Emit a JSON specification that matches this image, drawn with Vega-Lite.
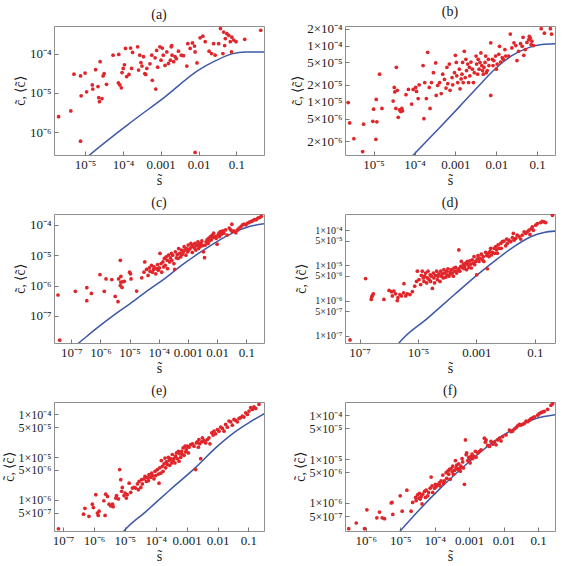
{
"$schema":"https://vega.github.io/schema/vega-lite/v6.json",
"background":"white",
"padding":{"left":1,"top":4,"right":2,"bottom":2},
"columns":2,
"spacing":{"row":59,"column":81},
"bounds":"flush",
"config":{
 "font":"Liberation Serif",
 "view":{"stroke":"#8f8f8f","strokeWidth":1},
 "axis":{"domain":false,"grid":false,"labelOverlap":false,"labelFont":"Liberation Serif","labelFontSize":13,"labelColor":"#1a1a1a","titleFont":"Liberation Serif","titleFontSize":14,"titleFontWeight":"normal","titleColor":"#1a1a1a","tickColor":"#777","tickSize":-4,"labelPadding":7,"titlePadding":2},
 "title":{"font":"Liberation Serif","fontSize":14,"fontWeight":"normal","color":"#1a1a1a","offset":4}
},
"datasets":{
"crv":[
{"p":"a","s":1.1e-5,"c":2.3e-7},{"p":"a","s":1.32e-5,"c":2.67e-7},{"p":"a","s":1.7e-4,"c":1.86e-6},{"p":"a","s":1.3e-3,"c":8.0e-6},{"p":"a","s":1.0e-2,"c":3.8e-5},{"p":"a","s":2.75e-2,"c":6.5e-5},{"p":"a","s":7.6e-2,"c":9.8e-5},{"p":"a","s":0.174,"c":1.1e-4},{"p":"a","s":0.54,"c":1.1e-4},
{"p":"b","s":8.5e-5,"c":1.05e-6},{"p":"b","s":9.6e-5,"c":1.15e-6},{"p":"b","s":3.4e-4,"c":3.0e-6},{"p":"b","s":1.26e-3,"c":8.2e-6},{"p":"b","s":3.8e-3,"c":1.95e-5},{"p":"b","s":9.6e-3,"c":3.9e-5},{"p":"b","s":2.4e-2,"c":6.6e-5},{"p":"b","s":6.2e-2,"c":9.2e-5},{"p":"b","s":0.13,"c":1.05e-4},{"p":"b","s":0.28,"c":1.08e-4},
{"p":"c","s":1.5e-7,"c":1.12e-8},{"p":"c","s":1.8e-7,"c":1.29e-8},{"p":"c","s":7.3e-7,"c":3.9e-8},{"p":"c","s":2.8e-6,"c":1.05e-7},{"p":"c","s":1.07e-5,"c":2.6e-7},{"p":"c","s":4.1e-5,"c":6.8e-7},{"p":"c","s":1.55e-4,"c":1.66e-6},{"p":"c","s":6.0e-4,"c":4.6e-6},{"p":"c","s":2.3e-3,"c":1.14e-5},{"p":"c","s":8.7e-3,"c":2.6e-5},{"p":"c","s":3.3e-2,"c":5.3e-5},{"p":"c","s":0.128,"c":8.8e-5},{"p":"c","s":0.41,"c":1.08e-4},
{"p":"d","s":2.0e-6,"c":5.5e-8},{"p":"d","s":2.24e-6,"c":6.2e-8},{"p":"d","s":2.1e-5,"c":3.1e-7},{"p":"d","s":1.7e-4,"c":1.43e-6},{"p":"d","s":1.02e-3,"c":5.2e-6},{"p":"d","s":5.2e-3,"c":1.53e-5},{"p":"d","s":1.94e-2,"c":3.4e-5},{"p":"d","s":7.2e-2,"c":6.5e-5},{"p":"d","s":0.206,"c":8.6e-5},{"p":"d","s":0.5,"c":9.4e-5},
{"p":"e","s":8.5e-6,"c":1.7e-7},{"p":"e","s":9.4e-6,"c":1.86e-7},{"p":"e","s":4.8e-5,"c":5.3e-7},{"p":"e","s":2.7e-4,"c":1.63e-6},{"p":"e","s":1.97e-3,"c":5.75e-6},{"p":"e","s":8.7e-3,"c":1.64e-5},{"p":"e","s":3.03e-2,"c":3.5e-5},{"p":"e","s":0.105,"c":6.4e-5},{"p":"e","s":0.33,"c":1.04e-4},
{"p":"f","s":9.0e-6,"c":2.1e-7},{"p":"f","s":1.0e-5,"c":2.3e-7},{"p":"f","s":3.6e-5,"c":7.0e-7},{"p":"f","s":1.38e-4,"c":2.07e-6},{"p":"f","s":5.2e-4,"c":5.5e-6},{"p":"f","s":1.99e-3,"c":1.38e-5},{"p":"f","s":6.04e-3,"c":2.74e-5},{"p":"f","s":2.3e-2,"c":5.2e-5},{"p":"f","s":8.7e-2,"c":8.4e-5},{"p":"f","s":0.32,"c":1.03e-4}
],
"pts":[
{"p":"a","s":2.0e-6,"c":2.5e-6},{"p":"a","s":4.2e-6,"c":3.5e-6},{"p":"a","s":5.1e-6,"c":3.0e-5},{"p":"a","s":7.6e-6,"c":2.7e-5},{"p":"a","s":7.9e-6,"c":8.5e-6},{"p":"a","s":1.0e-5,"c":3.2e-5},{"p":"a","s":1.1e-5,"c":1.07e-5},{"p":"a","s":7.6e-6,"c":6.0e-7},{"p":"a","s":1.55e-5,"c":1.6e-5},{"p":"a","s":1.6e-5,"c":1.26e-5},
{"p":"a","s":1.9e-5,"c":3.9e-5},{"p":"a","s":2.2e-5,"c":1.45e-5},{"p":"a","s":2.3e-5,"c":7.6e-6},{"p":"a","s":2.4e-5,"c":6.0e-6},{"p":"a","s":2.5e-5,"c":6.2e-5},{"p":"a","s":2.8e-5,"c":7.2e-6},{"p":"a","s":3.0e-5,"c":2.7e-5},{"p":"a","s":3.2e-5,"c":3.1e-5},{"p":"a","s":3.7e-5,"c":1.66e-5},{"p":"a","s":5.5e-5,"c":9.1e-5},
{"p":"a","s":7.8e-5,"c":9.5e-5},{"p":"a","s":7.6e-5,"c":1.8e-5},{"p":"a","s":8.3e-5,"c":1.6e-5},{"p":"a","s":9.1e-5,"c":1.35e-5},{"p":"a","s":9.5e-5,"c":3.3e-5},{"p":"a","s":1.02e-4,"c":4.2e-5},{"p":"a","s":1.1e-4,"c":5.2e-5},{"p":"a","s":1.17e-4,"c":1.35e-4},{"p":"a","s":1.26e-4,"c":2.6e-5},{"p":"a","s":1.45e-4,"c":2.95e-5},
{"p":"a","s":1.6e-4,"c":1.38e-4},{"p":"a","s":1.7e-4,"c":4.2e-5},{"p":"a","s":1.8e-4,"c":1.07e-4},{"p":"a","s":2.45e-4,"c":1.48e-4},{"p":"a","s":2.6e-4,"c":3.8e-5},{"p":"a","s":2.8e-4,"c":9.1e-5},{"p":"a","s":3.0e-4,"c":5.9e-5},{"p":"a","s":3.2e-4,"c":4.8e-5},{"p":"a","s":3.5e-4,"c":8.3e-5},{"p":"a","s":3.8e-4,"c":3.1e-5},
{"p":"a","s":4.0e-4,"c":2.95e-5},{"p":"a","s":4.3e-4,"c":4.2e-5},{"p":"a","s":5.2e-4,"c":5.5e-5},{"p":"a","s":5.8e-4,"c":9.1e-5},{"p":"a","s":6.0e-4,"c":2.1e-5},{"p":"a","s":7.1e-4,"c":7.8e-5},{"p":"a","s":7.4e-4,"c":1.26e-5},{"p":"a","s":7.8e-4,"c":1.2e-4},{"p":"a","s":8.3e-4,"c":4.5e-5},{"p":"a","s":9.5e-4,"c":1.48e-4},
{"p":"a","s":1.02e-3,"c":6.8e-5},{"p":"a","s":1.1e-3,"c":1.38e-4},{"p":"a","s":1.17e-3,"c":9.1e-5},{"p":"a","s":1.3e-3,"c":5.0e-5},{"p":"a","s":1.45e-3,"c":1.1e-4},{"p":"a","s":1.6e-3,"c":5.6e-5},{"p":"a","s":1.8e-3,"c":6.8e-5},{"p":"a","s":1.9e-3,"c":1.48e-4},{"p":"a","s":1.95e-3,"c":1.6e-4},{"p":"a","s":2.0e-3,"c":9.1e-5},
{"p":"a","s":2.2e-3,"c":6.2e-5},{"p":"a","s":2.4e-3,"c":8.3e-5},{"p":"a","s":2.6e-3,"c":7.4e-5},{"p":"a","s":2.95e-3,"c":1.15e-4},{"p":"a","s":3.5e-3,"c":9.1e-5},{"p":"a","s":4.0e-3,"c":8.8e-5},{"p":"a","s":4.9e-3,"c":4.8e-5},{"p":"a","s":5.2e-3,"c":1.78e-4},{"p":"a","s":6.0e-3,"c":1.35e-4},{"p":"a","s":6.9e-3,"c":1.86e-4},
{"p":"a","s":7.8e-3,"c":1.55e-4},{"p":"a","s":8.1e-3,"c":1.1e-4},{"p":"a","s":9.1e-3,"c":5.8e-5},{"p":"a","s":8.1e-3,"c":3.1e-7},{"p":"a","s":1.1e-2,"c":2.5e-4},{"p":"a","s":1.3e-2,"c":2.75e-4},{"p":"a","s":1.5e-2,"c":2.0e-4},{"p":"a","s":1.9e-2,"c":1.15e-4},{"p":"a","s":2.2e-2,"c":1.0e-4},{"p":"a","s":2.5e-2,"c":1.78e-4},
{"p":"a","s":2.75e-2,"c":9.1e-5},{"p":"a","s":3.4e-2,"c":1.78e-4},{"p":"a","s":3.8e-2,"c":4.3e-4},{"p":"a","s":4.4e-2,"c":1.0e-4},{"p":"a","s":4.6e-2,"c":3.5e-4},{"p":"a","s":4.9e-2,"c":1.6e-4},{"p":"a","s":5.1e-2,"c":2.4e-4},{"p":"a","s":5.6e-2,"c":3.2e-4},{"p":"a","s":6.3e-2,"c":2.9e-4},{"p":"a","s":6.9e-2,"c":2.0e-4},
{"p":"a","s":7.4e-2,"c":1.1e-4},{"p":"a","s":7.6e-2,"c":2.6e-4},{"p":"a","s":8.5e-2,"c":2.2e-4},{"p":"a","s":9.8e-2,"c":2.0e-4},{"p":"a","s":0.166,"c":2.3e-4},{"p":"a","s":0.44,"c":3.9e-4},
{"p":"b","s":2.4e-6,"c":9.7e-6},{"p":"b","s":2.6e-6,"c":4.2e-6},{"p":"b","s":3.3e-6,"c":2.2e-6},{"p":"b","s":5.4e-6,"c":1.3e-6},{"p":"b","s":5.7e-6,"c":4.0e-6},{"p":"b","s":9.6e-6,"c":4.5e-6},{"p":"b","s":1.0e-5,"c":7.4e-6},{"p":"b","s":1.16e-5,"c":1.1e-5},{"p":"b","s":1.2e-5,"c":4.4e-6},{"p":"b","s":1.14e-5,"c":2.15e-6},
{"p":"b","s":1.4e-5,"c":3.1e-5},{"p":"b","s":1.6e-5,"c":7.6e-6},{"p":"b","s":3.0e-5,"c":1.03e-5},{"p":"b","s":3.2e-5,"c":1.8e-5},{"p":"b","s":3.3e-5,"c":1.5e-5},{"p":"b","s":3.5e-5,"c":7.6e-6},{"p":"b","s":3.6e-5,"c":4.1e-5},{"p":"b","s":3.8e-5,"c":1.6e-5},{"p":"b","s":4.0e-5,"c":5.3e-6},{"p":"b","s":4.3e-5,"c":7.2e-6},
{"p":"b","s":4.6e-5,"c":6.7e-6},{"p":"b","s":4.9e-5,"c":7.6e-6},{"p":"b","s":5.1e-5,"c":6.9e-6},{"p":"b","s":6.2e-5,"c":1.34e-5},{"p":"b","s":7.1e-5,"c":1.66e-5},{"p":"b","s":8.5e-5,"c":9.1e-6},{"p":"b","s":9.3e-5,"c":1.66e-5},{"p":"b","s":1.07e-4,"c":1.8e-5},{"p":"b","s":1.12e-4,"c":1.53e-5},{"p":"b","s":1.23e-4,"c":1.14e-5},
{"p":"b","s":1.3e-4,"c":2.0e-5},{"p":"b","s":1.62e-4,"c":4.4e-5},{"p":"b","s":1.7e-4,"c":5.0e-6},{"p":"b","s":1.78e-4,"c":2.2e-5},{"p":"b","s":1.95e-4,"c":1.14e-5},{"p":"b","s":2.1e-4,"c":7.6e-5},{"p":"b","s":2.3e-4,"c":1.8e-5},{"p":"b","s":2.4e-4,"c":7.6e-6},{"p":"b","s":2.6e-4,"c":2.2e-5},{"p":"b","s":2.9e-4,"c":3.3e-5},
{"p":"b","s":3.3e-4,"c":4.9e-5},{"p":"b","s":3.4e-4,"c":1.3e-5},{"p":"b","s":3.7e-4,"c":1.95e-5},{"p":"b","s":4.1e-4,"c":2.2e-5},{"p":"b","s":4.5e-4,"c":1.4e-5},{"p":"b","s":4.9e-4,"c":3.1e-5},{"p":"b","s":5.4e-4,"c":2.5e-5},{"p":"b","s":5.9e-4,"c":1.75e-5},{"p":"b","s":6.2e-4,"c":4.1e-5},{"p":"b","s":6.5e-4,"c":2.1e-5},
{"p":"b","s":7.1e-4,"c":4.7e-5},{"p":"b","s":7.4e-4,"c":1.6e-5},{"p":"b","s":8.3e-4,"c":2.7e-5},{"p":"b","s":8.6e-4,"c":2.0e-5},{"p":"b","s":9.5e-4,"c":3.3e-5},{"p":"b","s":1.0e-3,"c":6.7e-5},{"p":"b","s":1.05e-3,"c":5.0e-5},{"p":"b","s":1.08e-3,"c":2.9e-5},{"p":"b","s":1.14e-3,"c":2.2e-5},{"p":"b","s":1.25e-3,"c":3.8e-5},
{"p":"b","s":1.3e-3,"c":1.7e-5},{"p":"b","s":1.38e-3,"c":2.55e-5},{"p":"b","s":1.45e-3,"c":3.1e-5},{"p":"b","s":1.5e-3,"c":5.0e-5},{"p":"b","s":1.55e-3,"c":2.2e-5},{"p":"b","s":1.65e-3,"c":7.9e-5},{"p":"b","s":1.74e-3,"c":2.7e-5},{"p":"b","s":1.8e-3,"c":5.7e-5},{"p":"b","s":1.87e-3,"c":3.6e-5},{"p":"b","s":2.0e-3,"c":4.7e-5},
{"p":"b","s":2.1e-3,"c":2.2e-5},{"p":"b","s":2.2e-3,"c":4.1e-5},{"p":"b","s":2.25e-3,"c":2.9e-5},{"p":"b","s":2.4e-3,"c":5.1e-5},{"p":"b","s":2.6e-3,"c":3.8e-5},{"p":"b","s":2.75e-3,"c":2.2e-5},{"p":"b","s":2.9e-3,"c":3.3e-5},{"p":"b","s":3.2e-3,"c":6.5e-5},{"p":"b","s":3.3e-3,"c":4.7e-5},{"p":"b","s":3.5e-3,"c":3.1e-5},
{"p":"b","s":3.6e-3,"c":5.7e-5},{"p":"b","s":3.8e-3,"c":3.8e-5},{"p":"b","s":4.0e-3,"c":5.0e-5},{"p":"b","s":4.2e-3,"c":7.4e-5},{"p":"b","s":4.4e-3,"c":4.4e-5},{"p":"b","s":4.6e-3,"c":3.6e-5},{"p":"b","s":4.8e-3,"c":3.1e-5},{"p":"b","s":5.0e-3,"c":4.1e-5},{"p":"b","s":5.3e-3,"c":5.0e-5},{"p":"b","s":5.5e-3,"c":6.5e-5},
{"p":"b","s":5.7e-3,"c":3.3e-5},{"p":"b","s":6.0e-3,"c":3.6e-5},{"p":"b","s":6.4e-3,"c":5.7e-5},{"p":"b","s":6.6e-3,"c":4.4e-5},{"p":"b","s":7.3e-3,"c":1.12e-4},{"p":"b","s":7.3e-3,"c":1.3e-5},{"p":"b","s":8.0e-3,"c":5.7e-5},{"p":"b","s":8.3e-3,"c":4.4e-5},{"p":"b","s":8.7e-3,"c":5.4e-5},{"p":"b","s":9.6e-3,"c":6.5e-5},
{"p":"b","s":1.0e-2,"c":3.8e-5},{"p":"b","s":1.05e-2,"c":4.7e-5},{"p":"b","s":1.15e-2,"c":7.0e-5},{"p":"b","s":1.2e-2,"c":9.7e-5},{"p":"b","s":1.27e-2,"c":5.1e-5},{"p":"b","s":1.4e-2,"c":6.1e-5},{"p":"b","s":1.48e-2,"c":5.7e-5},{"p":"b","s":1.62e-2,"c":8.5e-5},{"p":"b","s":1.7e-2,"c":6.5e-5},{"p":"b","s":2.0e-2,"c":6.5e-5},
{"p":"b","s":2.2e-2,"c":1.6e-4},{"p":"b","s":2.4e-2,"c":9.1e-5},{"p":"b","s":2.7e-2,"c":1.12e-4},{"p":"b","s":3.0e-2,"c":1.0e-4},{"p":"b","s":3.2e-2,"c":5.4e-5},{"p":"b","s":3.5e-2,"c":7.9e-5},{"p":"b","s":3.9e-2,"c":1.08e-4},{"p":"b","s":4.3e-2,"c":9.7e-5},{"p":"b","s":4.5e-2,"c":1.4e-4},{"p":"b","s":4.7e-2,"c":6.7e-5},
{"p":"b","s":5.1e-2,"c":8.5e-5},{"p":"b","s":5.6e-2,"c":1.14e-4},{"p":"b","s":6.2e-2,"c":1.27e-4},{"p":"b","s":6.4e-2,"c":1.46e-4},{"p":"b","s":6.8e-2,"c":1.36e-4},{"p":"b","s":7.1e-2,"c":1.04e-4},{"p":"b","s":7.4e-2,"c":1.2e-4},{"p":"b","s":8.1e-2,"c":1.0e-4},{"p":"b","s":0.125,"c":2.0e-4},{"p":"b","s":0.15,"c":1.66e-4},
{"p":"b","s":0.21,"c":2.0e-4},{"p":"b","s":0.224,"c":1.6e-4},
{"p":"c","s":3.5e-8,"c":4.9e-7},{"p":"c","s":4.0e-8,"c":1.6e-8},{"p":"c","s":1.38e-7,"c":6.5e-7},{"p":"c","s":3.4e-7,"c":8.5e-7},{"p":"c","s":3.4e-7,"c":3.2e-7},{"p":"c","s":4.9e-7,"c":5.5e-7},{"p":"c","s":9.6e-7,"c":2.3e-6},{"p":"c","s":1.35e-6,"c":6.5e-7},{"p":"c","s":1.55e-6,"c":1.66e-6},{"p":"c","s":2.45e-6,"c":1.58e-6},
{"p":"c","s":3.2e-6,"c":4.4e-7},{"p":"c","s":4.0e-6,"c":2.95e-7},{"p":"c","s":4.2e-6,"c":1.66e-6},{"p":"c","s":4.8e-6,"c":6.8e-6},{"p":"c","s":5.0e-6,"c":2.0e-6},{"p":"c","s":5.0e-6,"c":1.29e-6},{"p":"c","s":4.8e-6,"c":1.0e-6},{"p":"c","s":5.5e-6,"c":8.7e-7},{"p":"c","s":5.9e-6,"c":1.35e-6},{"p":"c","s":6.6e-6,"c":1.38e-6},
{"p":"c","s":1.0e-5,"c":2.75e-6},{"p":"c","s":1.07e-5,"c":2.45e-6},{"p":"c","s":1.12e-5,"c":1.66e-6},{"p":"c","s":1.74e-5,"c":6.6e-7},{"p":"c","s":2.6e-5,"c":1.8e-6},{"p":"c","s":3.1e-5,"c":2.75e-6},{"p":"c","s":3.3e-5,"c":6.0e-6},{"p":"c","s":3.8e-5,"c":3.4e-6},{"p":"c","s":4.3e-5,"c":2.15e-6},{"p":"c","s":4.7e-5,"c":3.8e-6},
{"p":"c","s":5.0e-5,"c":2.95e-6},{"p":"c","s":5.6e-5,"c":4.6e-6},{"p":"c","s":6.1e-5,"c":2.75e-6},{"p":"c","s":6.6e-5,"c":3.4e-6},{"p":"c","s":6.9e-5,"c":4.1e-6},{"p":"c","s":7.9e-5,"c":2.45e-6},{"p":"c","s":8.6e-5,"c":3.6e-6},{"p":"c","s":9.1e-5,"c":4.9e-6},{"p":"c","s":9.6e-5,"c":3.2e-6},{"p":"c","s":1.05e-4,"c":3.8e-6},
{"p":"c","s":1.1e-4,"c":1.14e-5},{"p":"c","s":1.2e-4,"c":5.3e-6},{"p":"c","s":1.26e-4,"c":2.75e-6},{"p":"c","s":1.38e-4,"c":6.0e-6},{"p":"c","s":1.48e-4,"c":4.1e-6},{"p":"c","s":1.55e-4,"c":7.8e-6},{"p":"c","s":1.66e-4,"c":4.6e-6},{"p":"c","s":1.78e-4,"c":8.8e-6},{"p":"c","s":1.95e-4,"c":6.8e-6},{"p":"c","s":2.0e-4,"c":3.6e-6},
{"p":"c","s":2.15e-4,"c":1.0e-5},{"p":"c","s":2.35e-4,"c":6.0e-6},{"p":"c","s":2.5e-4,"c":8.1e-6},{"p":"c","s":2.7e-4,"c":1.14e-5},{"p":"c","s":2.8e-4,"c":6.8e-6},{"p":"c","s":3.0e-4,"c":1.0e-5},{"p":"c","s":3.3e-4,"c":5.3e-6},{"p":"c","s":3.5e-4,"c":3.4e-6},{"p":"c","s":3.7e-4,"c":1.29e-5},{"p":"c","s":4.0e-4,"c":8.1e-6},
{"p":"c","s":4.3e-4,"c":1.05e-5},{"p":"c","s":4.6e-4,"c":7.8e-6},{"p":"c","s":4.8e-4,"c":1.66e-5},{"p":"c","s":5.2e-4,"c":1.14e-5},{"p":"c","s":5.6e-4,"c":8.8e-6},{"p":"c","s":6.0e-4,"c":1.48e-5},{"p":"c","s":6.3e-4,"c":1.05e-5},{"p":"c","s":6.8e-4,"c":1.23e-5},{"p":"c","s":7.4e-4,"c":1.9e-5},{"p":"c","s":7.8e-4,"c":1.48e-5},
{"p":"c","s":8.5e-4,"c":1.0e-5},{"p":"c","s":8.9e-4,"c":1.66e-5},{"p":"c","s":9.7e-4,"c":1.29e-5},{"p":"c","s":1.02e-3,"c":2.15e-5},{"p":"c","s":1.07e-3,"c":1.48e-5},{"p":"c","s":1.17e-3,"c":1.66e-5},{"p":"c","s":1.26e-3,"c":2.45e-5},{"p":"c","s":1.35e-3,"c":1.9e-5},{"p":"c","s":1.41e-3,"c":1.23e-5},{"p":"c","s":1.5e-3,"c":2.15e-5},
{"p":"c","s":1.66e-3,"c":1.74e-5},{"p":"c","s":1.74e-3,"c":2.45e-5},{"p":"c","s":1.86e-3,"c":1.48e-5},{"p":"c","s":2.0e-3,"c":2.05e-5},{"p":"c","s":2.2e-3,"c":2.75e-5},{"p":"c","s":2.3e-3,"c":1.66e-5},{"p":"c","s":2.4e-3,"c":2.3e-5},{"p":"c","s":2.6e-3,"c":1.9e-5},{"p":"c","s":2.8e-3,"c":2.45e-5},{"p":"c","s":3.0e-3,"c":2.95e-5},
{"p":"c","s":3.2e-3,"c":2.05e-5},{"p":"c","s":3.4e-3,"c":1.29e-5},{"p":"c","s":3.7e-3,"c":8.3e-6},{"p":"c","s":3.9e-3,"c":2.15e-5},{"p":"c","s":4.2e-3,"c":2.75e-5},{"p":"c","s":4.5e-3,"c":3.2e-5},{"p":"c","s":4.9e-3,"c":2.45e-5},{"p":"c","s":5.1e-3,"c":3.6e-5},{"p":"c","s":5.4e-3,"c":2.95e-5},{"p":"c","s":5.9e-3,"c":4.1e-5},
{"p":"c","s":6.3e-3,"c":3.2e-5},{"p":"c","s":6.8e-3,"c":4.6e-5},{"p":"c","s":7.2e-3,"c":3.8e-5},{"p":"c","s":7.6e-3,"c":5.3e-5},{"p":"c","s":8.7e-3,"c":4.1e-5},{"p":"c","s":9.3e-3,"c":3.6e-5},{"p":"c","s":1.0e-2,"c":2.3e-5},{"p":"c","s":1.07e-2,"c":4.6e-5},{"p":"c","s":1.15e-2,"c":5.3e-5},{"p":"c","s":1.2e-2,"c":4.1e-5},
{"p":"c","s":1.3e-2,"c":6.0e-5},{"p":"c","s":1.4e-2,"c":4.9e-5},{"p":"c","s":1.48e-2,"c":5.7e-5},{"p":"c","s":1.58e-2,"c":6.3e-5},{"p":"c","s":1.7e-2,"c":5.3e-5},{"p":"c","s":1.95e-2,"c":6.8e-5},{"p":"c","s":2.2e-2,"c":4.6e-5},{"p":"c","s":2.6e-2,"c":7.8e-5},{"p":"c","s":2.95e-2,"c":6.8e-5},{"p":"c","s":3.2e-2,"c":1.05e-4},
{"p":"c","s":3.3e-2,"c":6.0e-5},{"p":"c","s":3.8e-2,"c":6.3e-5},{"p":"c","s":4.4e-2,"c":5.5e-5},{"p":"c","s":5.0e-2,"c":6.8e-5},{"p":"c","s":5.7e-2,"c":7.8e-5},{"p":"c","s":6.6e-2,"c":8.8e-5},{"p":"c","s":7.4e-2,"c":1.0e-4},{"p":"c","s":8.5e-2,"c":1.05e-4},{"p":"c","s":9.8e-2,"c":1.0e-4},{"p":"c","s":0.112,"c":1.14e-4},
{"p":"c","s":0.129,"c":1.23e-4},{"p":"c","s":0.148,"c":1.29e-4},{"p":"c","s":0.166,"c":1.36e-4},{"p":"c","s":0.19,"c":1.47e-4},{"p":"c","s":0.22,"c":1.47e-4},{"p":"c","s":0.25,"c":1.67e-4},{"p":"c","s":0.29,"c":1.76e-4},{"p":"c","s":0.33,"c":1.9e-4},
{"p":"d","s":4.7e-8,"c":7.6e-8},{"p":"d","s":1.6e-7,"c":4.2e-6},{"p":"d","s":2.5e-7,"c":1.07e-6},{"p":"d","s":2.6e-7,"c":1.26e-6},{"p":"d","s":2.75e-7,"c":1.4e-6},{"p":"d","s":2.95e-7,"c":1.55e-6},{"p":"d","s":6.8e-7,"c":1.07e-6},{"p":"d","s":1.02e-6,"c":1.93e-6},{"p":"d","s":1.23e-6,"c":1.78e-6},{"p":"d","s":1.32e-6,"c":1.35e-6},
{"p":"d","s":1.5e-6,"c":1.86e-6},{"p":"d","s":1.7e-6,"c":1.55e-6},{"p":"d","s":1.95e-6,"c":1.0e-6},{"p":"d","s":2.05e-6,"c":1.2e-6},{"p":"d","s":2.4e-6,"c":1.48e-6},{"p":"d","s":2.7e-6,"c":1.35e-6},{"p":"d","s":3.2e-6,"c":1.66e-6},{"p":"d","s":3.3e-6,"c":3.0e-6},{"p":"d","s":3.8e-6,"c":1.35e-6},{"p":"d","s":4.3e-6,"c":1.55e-6},
{"p":"d","s":5.3e-6,"c":1.48e-6},{"p":"d","s":6.4e-6,"c":1.78e-6},{"p":"d","s":7.7e-6,"c":2.55e-6},{"p":"d","s":8.9e-6,"c":3.5e-6},{"p":"d","s":9.5e-6,"c":6.8e-6},{"p":"d","s":1.08e-5,"c":3.9e-6},{"p":"d","s":1.23e-5,"c":2.85e-6},{"p":"d","s":1.3e-5,"c":5.2e-6},{"p":"d","s":1.4e-5,"c":6.8e-6},{"p":"d","s":1.52e-5,"c":4.4e-6},
{"p":"d","s":1.6e-5,"c":3.5e-6},{"p":"d","s":1.69e-5,"c":4.9e-6},{"p":"d","s":1.82e-5,"c":6.05e-6},{"p":"d","s":1.98e-5,"c":3.16e-6},{"p":"d","s":2.1e-5,"c":4.4e-6},{"p":"d","s":2.2e-5,"c":6.8e-6},{"p":"d","s":2.4e-5,"c":3.9e-6},{"p":"d","s":2.6e-5,"c":5.4e-6},{"p":"d","s":2.7e-5,"c":3.5e-6},{"p":"d","s":2.85e-5,"c":4.9e-6},
{"p":"d","s":3.1e-5,"c":2.2e-6},{"p":"d","s":3.35e-5,"c":6.05e-6},{"p":"d","s":3.5e-5,"c":4.4e-6},{"p":"d","s":3.7e-5,"c":3.16e-6},{"p":"d","s":4.0e-5,"c":5.2e-6},{"p":"d","s":4.35e-5,"c":6.8e-6},{"p":"d","s":4.6e-5,"c":3.9e-6},{"p":"d","s":4.8e-5,"c":4.9e-6},{"p":"d","s":5.2e-5,"c":5.7e-6},{"p":"d","s":5.65e-5,"c":3.5e-6},
{"p":"d","s":6.0e-5,"c":6.8e-6},{"p":"d","s":6.3e-5,"c":4.9e-6},{"p":"d","s":6.8e-5,"c":5.7e-6},{"p":"d","s":7.3e-5,"c":4.4e-6},{"p":"d","s":7.7e-5,"c":7.5e-6},{"p":"d","s":8.2e-5,"c":6.05e-6},{"p":"d","s":8.8e-5,"c":4.6e-6},{"p":"d","s":9.6e-5,"c":6.8e-6},{"p":"d","s":1.0e-4,"c":5.4e-6},{"p":"d","s":1.06e-4,"c":8.0e-6},
{"p":"d","s":1.15e-4,"c":4.9e-6},{"p":"d","s":1.24e-4,"c":6.45e-6},{"p":"d","s":1.31e-4,"c":5.7e-6},{"p":"d","s":1.38e-4,"c":7.5e-6},{"p":"d","s":1.5e-4,"c":6.05e-6},{"p":"d","s":1.62e-4,"c":4.9e-6},{"p":"d","s":1.7e-4,"c":8.4e-6},{"p":"d","s":1.8e-4,"c":6.8e-6},{"p":"d","s":1.95e-4,"c":8.7e-6},{"p":"d","s":2.1e-4,"c":6.05e-6},
{"p":"d","s":2.2e-4,"c":7.0e-6},{"p":"d","s":2.5e-4,"c":2.74e-5},{"p":"d","s":2.5e-4,"c":8.0e-6},{"p":"d","s":2.7e-4,"c":6.8e-6},{"p":"d","s":2.9e-4,"c":9.3e-6},{"p":"d","s":3.04e-4,"c":1.29e-5},{"p":"d","s":3.3e-4,"c":8.7e-6},{"p":"d","s":3.6e-4,"c":1.08e-5},{"p":"d","s":3.75e-4,"c":8.0e-6},{"p":"d","s":3.95e-4,"c":9.3e-6},
{"p":"d","s":4.3e-4,"c":1.16e-5},{"p":"d","s":4.6e-4,"c":7.5e-6},{"p":"d","s":4.9e-4,"c":1.29e-5},{"p":"d","s":5.1e-4,"c":1.04e-5},{"p":"d","s":5.6e-4,"c":8.7e-6},{"p":"d","s":6.0e-4,"c":1.34e-5},{"p":"d","s":6.35e-4,"c":1.08e-5},{"p":"d","s":6.7e-4,"c":8.4e-6},{"p":"d","s":7.2e-4,"c":1.44e-5},{"p":"d","s":7.8e-4,"c":1.16e-5},
{"p":"d","s":8.3e-4,"c":1.78e-5},{"p":"d","s":8.7e-4,"c":1.04e-5},{"p":"d","s":9.4e-4,"c":1.29e-5},{"p":"d","s":1.02e-3,"c":5.4e-6},{"p":"d","s":1.07e-3,"c":1.53e-5},{"p":"d","s":1.13e-3,"c":1.9e-5},{"p":"d","s":1.22e-3,"c":1.29e-5},{"p":"d","s":1.32e-3,"c":1.6e-5},{"p":"d","s":1.47e-3,"c":2.07e-5},{"p":"d","s":1.6e-3,"c":1.44e-5},
{"p":"d","s":1.72e-3,"c":1.78e-5},{"p":"d","s":1.8e-3,"c":1.29e-5},{"p":"d","s":2.07e-3,"c":2.35e-5},{"p":"d","s":2.24e-3,"c":1.9e-5},{"p":"d","s":2.36e-3,"c":8.0e-6},{"p":"d","s":2.5e-3,"c":2.2e-5},{"p":"d","s":2.7e-3,"c":1.78e-5},{"p":"d","s":2.9e-3,"c":2.46e-5},{"p":"d","s":3.07e-3,"c":3.05e-5},{"p":"d","s":3.24e-3,"c":1.98e-5},
{"p":"d","s":3.5e-3,"c":2.35e-5},{"p":"d","s":4.0e-3,"c":3.05e-5},{"p":"d","s":4.2e-3,"c":2.2e-5},{"p":"d","s":4.56e-3,"c":3.4e-5},{"p":"d","s":4.9e-3,"c":2.74e-5},{"p":"d","s":5.2e-3,"c":2.2e-5},{"p":"d","s":5.5e-3,"c":3.8e-5},{"p":"d","s":5.9e-3,"c":3.05e-5},{"p":"d","s":6.8e-3,"c":4.2e-5},{"p":"d","s":7.1e-3,"c":3.05e-5},
{"p":"d","s":7.7e-3,"c":4.7e-5},{"p":"d","s":8.8e-3,"c":4.9e-5},{"p":"d","s":1.0e-2,"c":3.6e-5},{"p":"d","s":1.08e-2,"c":5.6e-5},{"p":"d","s":1.14e-2,"c":4.2e-5},{"p":"d","s":1.3e-2,"c":5.2e-5},{"p":"d","s":1.49e-2,"c":4.7e-5},{"p":"d","s":1.7e-2,"c":6.1e-5},{"p":"d","s":1.84e-2,"c":8.1e-5},{"p":"d","s":1.94e-2,"c":5.2e-5},
{"p":"d","s":2.2e-2,"c":5.8e-5},{"p":"d","s":2.5e-2,"c":7.2e-5},{"p":"d","s":2.9e-2,"c":6.5e-5},{"p":"d","s":3.3e-2,"c":5.6e-5},{"p":"d","s":3.7e-2,"c":7.2e-5},{"p":"d","s":4.3e-2,"c":9.0e-5},{"p":"d","s":4.85e-2,"c":8.1e-5},{"p":"d","s":5.5e-2,"c":9.0e-5},{"p":"d","s":6.3e-2,"c":1.0e-4},{"p":"d","s":6.8e-2,"c":7.55e-5},
{"p":"d","s":7.6e-2,"c":1.11e-4},{"p":"d","s":8.2e-2,"c":1.24e-4},{"p":"d","s":8.9e-2,"c":1.0e-4},{"p":"d","s":0.107,"c":1.38e-4},{"p":"d","s":0.122,"c":1.54e-4},{"p":"d","s":0.158,"c":1.64e-4},{"p":"d","s":0.181,"c":1.79e-4},{"p":"d","s":0.206,"c":1.71e-4},{"p":"d","s":0.235,"c":1.64e-4},{"p":"d","s":0.4,"c":2.64e-4},
{"p":"e","s":7.1e-8,"c":2.1e-7},{"p":"e","s":4.6e-7,"c":4.6e-7},{"p":"e","s":5.1e-7,"c":6.3e-7},{"p":"e","s":6.9e-7,"c":4.1e-7},{"p":"e","s":8.9e-7,"c":7.9e-7},{"p":"e","s":9.6e-7,"c":6.6e-7},{"p":"e","s":1.15e-6,"c":1.32e-6},{"p":"e","s":1.3e-6,"c":4.9e-7},{"p":"e","s":1.38e-6,"c":4.3e-7},{"p":"e","s":1.47e-6,"c":5.4e-7},
{"p":"e","s":2.1e-6,"c":9.5e-7},{"p":"e","s":2.3e-6,"c":4.3e-7},{"p":"e","s":2.4e-6,"c":1.35e-6},{"p":"e","s":2.75e-6,"c":1.2e-6},{"p":"e","s":3.1e-6,"c":7.9e-7},{"p":"e","s":3.5e-6,"c":7.2e-7},{"p":"e","s":4.0e-6,"c":7.9e-7},{"p":"e","s":4.2e-6,"c":6.9e-7},{"p":"e","s":5.1e-6,"c":1.1e-6},{"p":"e","s":5.4e-6,"c":1.26e-6},
{"p":"e","s":6.2e-6,"c":1.05e-6},{"p":"e","s":6.8e-6,"c":5.1e-6},{"p":"e","s":7.4e-6,"c":2.95e-6},{"p":"e","s":7.9e-6,"c":1.58e-6},{"p":"e","s":8.3e-6,"c":1.95e-6},{"p":"e","s":9.4e-6,"c":1.26e-6},{"p":"e","s":1.02e-5,"c":1.44e-6},{"p":"e","s":1.12e-5,"c":1.1e-6},{"p":"e","s":1.2e-5,"c":1.32e-6},{"p":"e","s":1.38e-5,"c":2.45e-6},
{"p":"e","s":1.55e-5,"c":1.5e-6},{"p":"e","s":1.76e-5,"c":1.88e-6},{"p":"e","s":2.0e-5,"c":1.95e-6},{"p":"e","s":2.25e-5,"c":1.88e-6},{"p":"e","s":2.55e-5,"c":2.35e-6},{"p":"e","s":2.75e-5,"c":1.72e-6},{"p":"e","s":2.9e-5,"c":2.7e-6},{"p":"e","s":3.3e-5,"c":1.95e-6},{"p":"e","s":3.5e-5,"c":2.95e-6},{"p":"e","s":3.7e-5,"c":2.35e-6},
{"p":"e","s":4.2e-5,"c":3.1e-6},{"p":"e","s":4.5e-5,"c":3.55e-6},{"p":"e","s":5.0e-5,"c":2.7e-6},{"p":"e","s":5.4e-5,"c":3.35e-6},{"p":"e","s":5.8e-5,"c":2.8e-6},{"p":"e","s":6.1e-5,"c":3.9e-6},{"p":"e","s":6.9e-5,"c":3.35e-6},{"p":"e","s":7.4e-5,"c":4.2e-6},{"p":"e","s":7.8e-5,"c":3.7e-6},{"p":"e","s":8.8e-5,"c":3.1e-6},
{"p":"e","s":9.5e-5,"c":4.65e-6},{"p":"e","s":1.0e-4,"c":3.7e-6},{"p":"e","s":1.13e-4,"c":5.1e-6},{"p":"e","s":1.22e-4,"c":4.0e-6},{"p":"e","s":1.28e-4,"c":2.45e-6},{"p":"e","s":1.35e-4,"c":5.6e-6},{"p":"e","s":1.45e-4,"c":4.2e-6},{"p":"e","s":1.52e-4,"c":8.3e-6},{"p":"e","s":1.64e-4,"c":6.1e-6},{"p":"e","s":1.73e-4,"c":4.65e-6},
{"p":"e","s":1.86e-4,"c":6.9e-6},{"p":"e","s":2.0e-4,"c":9.5e-6},{"p":"e","s":2.1e-4,"c":5.6e-6},{"p":"e","s":2.2e-4,"c":7.7e-6},{"p":"e","s":2.4e-4,"c":6.7e-6},{"p":"e","s":2.57e-4,"c":9.9e-6},{"p":"e","s":2.7e-4,"c":8.3e-6},{"p":"e","s":2.84e-4,"c":6.4e-6},{"p":"e","s":3.06e-4,"c":9.2e-6},{"p":"e","s":3.3e-4,"c":7.3e-6},
{"p":"e","s":3.45e-4,"c":1.15e-5},{"p":"e","s":3.6e-4,"c":8.3e-6},{"p":"e","s":3.9e-4,"c":9.2e-6},{"p":"e","s":4.2e-4,"c":7.3e-6},{"p":"e","s":4.4e-4,"c":1.05e-5},{"p":"e","s":4.7e-4,"c":1.25e-5},{"p":"e","s":5.0e-4,"c":9.2e-6},{"p":"e","s":5.4e-4,"c":1.37e-5},{"p":"e","s":5.7e-4,"c":8.0e-6},{"p":"e","s":6.0e-4,"c":1.19e-5},
{"p":"e","s":6.45e-4,"c":9.9e-6},{"p":"e","s":6.9e-4,"c":1.37e-5},{"p":"e","s":7.3e-4,"c":1.15e-5},{"p":"e","s":7.7e-4,"c":1.64e-5},{"p":"e","s":8.3e-4,"c":1.1e-5},{"p":"e","s":8.9e-4,"c":1.8e-5},{"p":"e","s":9.35e-4,"c":1.32e-5},{"p":"e","s":9.8e-4,"c":1.5e-5},{"p":"e","s":1.06e-3,"c":1.8e-5},{"p":"e","s":1.14e-3,"c":1.25e-5},
{"p":"e","s":1.2e-3,"c":1.7e-5},{"p":"e","s":1.36e-3,"c":1.97e-5},{"p":"e","s":1.54e-3,"c":2.04e-5},{"p":"e","s":1.74e-3,"c":1.8e-5},{"p":"e","s":1.97e-3,"c":5.1e-6},{"p":"e","s":2.07e-3,"c":2.15e-5},{"p":"e","s":2.23e-3,"c":2.27e-5},{"p":"e","s":2.4e-3,"c":1.7e-5},{"p":"e","s":2.5e-3,"c":2.58e-5},{"p":"e","s":2.65e-3,"c":2.04e-5},
{"p":"e","s":2.86e-3,"c":9.2e-6},{"p":"e","s":3.08e-3,"c":2.27e-5},{"p":"e","s":3.24e-3,"c":2.83e-5},{"p":"e","s":3.66e-3,"c":2.45e-5},{"p":"e","s":3.95e-3,"c":2.27e-5},{"p":"e","s":4.15e-3,"c":2.15e-5},{"p":"e","s":4.7e-3,"c":2.58e-5},{"p":"e","s":5.3e-3,"c":2.83e-5},{"p":"e","s":5.7e-3,"c":2.04e-5},{"p":"e","s":6.5e-3,"c":3.7e-5},
{"p":"e","s":7.2e-3,"c":3.27e-5},{"p":"e","s":7.7e-3,"c":4.05e-5},{"p":"e","s":8.7e-3,"c":3.5e-5},{"p":"e","s":9.9e-3,"c":4.4e-5},{"p":"e","s":1.12e-2,"c":4.05e-5},{"p":"e","s":1.27e-2,"c":5.0e-5},{"p":"e","s":1.44e-2,"c":4.7e-5},{"p":"e","s":1.63e-2,"c":4.05e-5},{"p":"e","s":1.84e-2,"c":5.8e-5},{"p":"e","s":2.08e-2,"c":5.0e-5},
{"p":"e","s":2.36e-2,"c":7.0e-5},{"p":"e","s":2.67e-2,"c":6.7e-5},{"p":"e","s":3.03e-2,"c":5.6e-5},{"p":"e","s":3.43e-2,"c":7.6e-5},{"p":"e","s":3.9e-2,"c":7.2e-5},{"p":"e","s":4.4e-2,"c":6.7e-5},{"p":"e","s":5.0e-2,"c":8.05e-5},{"p":"e","s":5.6e-2,"c":8.35e-5},{"p":"e","s":6.4e-2,"c":9.1e-5},{"p":"e","s":7.2e-2,"c":8.65e-5},
{"p":"e","s":8.2e-2,"c":1.09e-4},{"p":"e","s":9.3e-2,"c":1.0e-4},{"p":"e","s":0.105,"c":1.2e-4},{"p":"e","s":0.119,"c":1.44e-4},{"p":"e","s":0.134,"c":1.31e-4},{"p":"e","s":0.152,"c":1.49e-4},{"p":"e","s":0.172,"c":1.38e-4},{"p":"e","s":0.22,"c":1.72e-4},
{"p":"f","s":3.2e-7,"c":2.6e-7},{"p":"f","s":5.3e-7,"c":3.5e-7},{"p":"f","s":9.2e-7,"c":2.6e-7},{"p":"f","s":1.08e-6,"c":7.0e-7},{"p":"f","s":2.1e-6,"c":4.6e-7},{"p":"f","s":2.5e-6,"c":6.2e-7},{"p":"f","s":3.0e-6,"c":4.6e-7},{"p":"f","s":3.5e-6,"c":4.4e-7},{"p":"f","s":5.5e-6,"c":1.0e-6},{"p":"f","s":6.1e-6,"c":5.5e-7},
{"p":"f","s":5.8e-6,"c":1.03e-6},{"p":"f","s":1.0e-5,"c":1.46e-6},{"p":"f","s":1.14e-5,"c":6.5e-7},{"p":"f","s":1.56e-5,"c":1.96e-6},{"p":"f","s":2.07e-5,"c":6.5e-7},{"p":"f","s":2.3e-5,"c":1.03e-6},{"p":"f","s":2.8e-5,"c":1.34e-6},{"p":"f","s":2.9e-5,"c":1.13e-6},{"p":"f","s":3.2e-5,"c":1.54e-6},{"p":"f","s":3.5e-5,"c":1.29e-6},
{"p":"f","s":3.6e-5,"c":1.65e-6},{"p":"f","s":3.8e-5,"c":1.23e-6},{"p":"f","s":4.05e-5,"c":1.39e-6},{"p":"f","s":4.3e-5,"c":9.5e-7},{"p":"f","s":4.5e-5,"c":1.59e-6},{"p":"f","s":5.1e-5,"c":1.83e-6},{"p":"f","s":5.4e-5,"c":1.34e-6},{"p":"f","s":5.65e-5,"c":1.96e-6},{"p":"f","s":6.3e-5,"c":1.46e-6},{"p":"f","s":6.7e-5,"c":1.74e-6},
{"p":"f","s":7.4e-5,"c":2.17e-6},{"p":"f","s":7.9e-5,"c":3.9e-6},{"p":"f","s":8.4e-5,"c":2.45e-6},{"p":"f","s":8.8e-5,"c":1.74e-6},{"p":"f","s":9.9e-5,"c":2.17e-6},{"p":"f","s":1.05e-4,"c":2.67e-6},{"p":"f","s":1.1e-4,"c":2.33e-6},{"p":"f","s":1.23e-4,"c":2.58e-6},{"p":"f","s":1.38e-4,"c":2.9e-6},{"p":"f","s":1.44e-4,"c":2.45e-6},
{"p":"f","s":1.54e-4,"c":3.18e-6},{"p":"f","s":1.72e-4,"c":4.33e-6},{"p":"f","s":1.8e-4,"c":2.77e-6},{"p":"f","s":1.92e-4,"c":3.18e-6},{"p":"f","s":2.15e-4,"c":4.9e-6},{"p":"f","s":2.24e-4,"c":3.65e-6},{"p":"f","s":2.4e-4,"c":5.3e-6},{"p":"f","s":2.56e-4,"c":4.5e-6},{"p":"f","s":2.68e-4,"c":5.8e-6},{"p":"f","s":2.8e-4,"c":3.46e-6},
{"p":"f","s":3.0e-4,"c":6.1e-6},{"p":"f","s":3.2e-4,"c":5.15e-6},{"p":"f","s":3.35e-4,"c":6.9e-6},{"p":"f","s":3.5e-4,"c":4.5e-6},{"p":"f","s":3.74e-4,"c":5.5e-6},{"p":"f","s":4.0e-4,"c":9.25e-6},{"p":"f","s":4.2e-4,"c":6.3e-6},{"p":"f","s":4.37e-4,"c":7.3e-6},{"p":"f","s":4.7e-4,"c":5.8e-6},{"p":"f","s":5.0e-4,"c":7.8e-6},
{"p":"f","s":5.2e-4,"c":6.1e-6},{"p":"f","s":5.5e-4,"c":5.3e-6},{"p":"f","s":5.8e-4,"c":6.9e-6},{"p":"f","s":6.25e-4,"c":1.03e-5},{"p":"f","s":6.5e-4,"c":8.6e-6},{"p":"f","s":6.8e-4,"c":6.3e-6},{"p":"f","s":7.3e-4,"c":2.67e-6},{"p":"f","s":7.8e-4,"c":2.74e-5},{"p":"f","s":8.2e-4,"c":1.26e-5},{"p":"f","s":8.5e-4,"c":1.38e-5},
{"p":"f","s":9.1e-4,"c":9.25e-6},{"p":"f","s":9.75e-4,"c":1.1e-5},{"p":"f","s":1.02e-3,"c":1.03e-5},{"p":"f","s":1.07e-3,"c":8.2e-6},{"p":"f","s":1.14e-3,"c":1.16e-5},{"p":"f","s":1.22e-3,"c":1.3e-5},{"p":"f","s":1.27e-3,"c":1.03e-5},{"p":"f","s":1.42e-3,"c":1.16e-5},{"p":"f","s":1.52e-3,"c":1.5e-5},{"p":"f","s":1.59e-3,"c":1.1e-5},
{"p":"f","s":1.78e-3,"c":1.38e-5},{"p":"f","s":1.99e-3,"c":1.5e-5},{"p":"f","s":2.22e-3,"c":1.63e-5},{"p":"f","s":2.77e-3,"c":2.99e-5},{"p":"f","s":2.96e-3,"c":2.43e-5},{"p":"f","s":3.1e-3,"c":2.74e-5},{"p":"f","s":3.46e-3,"c":2.05e-5},{"p":"f","s":3.87e-3,"c":1.94e-5},{"p":"f","s":4.3e-3,"c":2.52e-5},{"p":"f","s":4.84e-3,"c":2.19e-5},
{"p":"f","s":5.4e-3,"c":2.43e-5},{"p":"f","s":6.04e-3,"c":2.12e-5},{"p":"f","s":6.76e-3,"c":2.74e-5},{"p":"f","s":7.55e-3,"c":2.99e-5},{"p":"f","s":8.4e-3,"c":2.6e-5},{"p":"f","s":9.4e-3,"c":3.26e-5},{"p":"f","s":1.18e-2,"c":3.55e-5},{"p":"f","s":1.47e-2,"c":4.6e-5},{"p":"f","s":1.64e-2,"c":4.2e-5},{"p":"f","s":1.84e-2,"c":4.35e-5},
{"p":"f","s":2.05e-2,"c":4.85e-5},{"p":"f","s":2.3e-2,"c":5.2e-5},{"p":"f","s":2.56e-2,"c":5.75e-5},{"p":"f","s":2.87e-2,"c":6.2e-5},{"p":"f","s":3.2e-2,"c":5.95e-5},{"p":"f","s":3.58e-2,"c":6.2e-5},{"p":"f","s":4.0e-2,"c":6.5e-5},{"p":"f","s":4.48e-2,"c":7.3e-5},{"p":"f","s":5.0e-2,"c":7.1e-5},{"p":"f","s":5.6e-2,"c":7.7e-5},
{"p":"f","s":6.25e-2,"c":8.4e-5},{"p":"f","s":7.0e-2,"c":8.7e-5},{"p":"f","s":7.8e-2,"c":9.2e-5},{"p":"f","s":9.75e-2,"c":1.0e-4},{"p":"f","s":0.109,"c":1.09e-4},{"p":"f","s":0.122,"c":1.15e-4},{"p":"f","s":0.136,"c":1.19e-4},{"p":"f","s":0.152,"c":1.23e-4},{"p":"f","s":0.19,"c":1.36e-4},{"p":"f","s":0.237,"c":1.68e-4},
{"p":"f","s":0.265,"c":1.83e-4}
]
},
"concat":[
{"title":"(a)","width":210,"height":129,
 "encoding":{
  "x":{"field":"s","type":"quantitative","scale":{"type":"log","domain":[1.51e-6,0.537],"nice":false},"axis":{"values":[1e-5,1e-4,1e-3,1e-2,0.1],"labelExpr":"datum.value >= 0.0009 ? format(datum.value, '~g') : '10⁻' + ['⁰','¹','²','³','⁴','⁵','⁶','⁷','⁸','⁹'][-round(log(datum.value)/LN10)]","title":"s̃"}},
  "y":{"field":"c","type":"quantitative","scale":{"type":"log","domain":[2.67e-7,5.0e-4],"nice":false},"axis":{"values":[1e-6,1e-5,1e-4],"labelExpr":"'10⁻' + ['⁰','¹','²','³','⁴','⁵','⁶','⁷','⁸','⁹'][-round(log(datum.value)/LN10)]","title":"c̃, ⟨c̃⟩"}}},
 "layer":[
  {"data":{"name":"crv"},"transform":[{"filter":"datum.p==='a'"}],"mark":{"type":"line","color":"#3d59a7","strokeWidth":1.5,"interpolate":"monotone","clip":true}},
  {"data":{"name":"pts"},"transform":[{"filter":"datum.p==='a'"}],"mark":{"type":"circle","color":"#e0262b","size":14,"opacity":1,"clip":true}}]},
{"title":"(b)","width":210,"height":129,
 "encoding":{
  "x":{"field":"s","type":"quantitative","scale":{"type":"log","domain":[2.0e-6,0.272],"nice":false},"axis":{"values":[1e-5,1e-4,1e-3,1e-2,0.1],"labelExpr":"datum.value >= 0.0009 ? format(datum.value, '~g') : '10⁻' + ['⁰','¹','²','³','⁴','⁵','⁶','⁷','⁸','⁹'][-round(log(datum.value)/LN10)]","title":"s̃"}},
  "y":{"field":"c","type":"quantitative","scale":{"type":"log","domain":[1.13e-6,2.23e-4],"nice":false},"axis":{"values":[2e-6,5e-6,1e-5,2e-5,5e-5,1e-4,2e-4],"labelExpr":"round(datum.value/pow(10,floor(log(datum.value)/LN10+0.0001))) + '×10⁻' + ['⁰','¹','²','³','⁴','⁵','⁶','⁷','⁸','⁹'][-floor(log(datum.value)/LN10+0.0001)]","title":"c̃, ⟨c̃⟩"}}},
 "layer":[
  {"data":{"name":"crv"},"transform":[{"filter":"datum.p==='b'"}],"mark":{"type":"line","color":"#3d59a7","strokeWidth":1.5,"interpolate":"monotone","clip":true}},
  {"data":{"name":"pts"},"transform":[{"filter":"datum.p==='b'"}],"mark":{"type":"circle","color":"#e0262b","size":14,"opacity":1,"clip":true}}]},
{"title":"(c)","width":210,"height":129,
 "encoding":{
  "x":{"field":"s","type":"quantitative","scale":{"type":"log","domain":[2.55e-8,0.405],"nice":false},"axis":{"values":[1e-7,1e-6,1e-5,1e-4,1e-3,1e-2,0.1],"labelExpr":"datum.value >= 0.0009 ? format(datum.value, '~g') : '10⁻' + ['⁰','¹','²','³','⁴','⁵','⁶','⁷','⁸','⁹'][-round(log(datum.value)/LN10)]","title":"s̃"}},
  "y":{"field":"c","type":"quantitative","scale":{"type":"log","domain":[1.29e-8,2.27e-4],"nice":false},"axis":{"values":[1e-7,1e-6,1e-5,1e-4],"labelExpr":"'10⁻' + ['⁰','¹','²','³','⁴','⁵','⁶','⁷','⁸','⁹'][-round(log(datum.value)/LN10)]","title":"c̃, ⟨c̃⟩"}}},
 "layer":[
  {"data":{"name":"crv"},"transform":[{"filter":"datum.p==='c'"}],"mark":{"type":"line","color":"#3d59a7","strokeWidth":1.5,"interpolate":"monotone","clip":true}},
  {"data":{"name":"pts"},"transform":[{"filter":"datum.p==='c'"}],"mark":{"type":"circle","color":"#e0262b","size":14,"opacity":1,"clip":true}}]},
{"title":"(d)","width":210,"height":129,
 "encoding":{
  "x":{"field":"s","type":"quantitative","scale":{"type":"log","domain":[3.16e-8,0.49],"nice":false},"axis":{"values":[1e-7,1e-5,1e-3,0.1],"labelExpr":"datum.value >= 0.0009 ? format(datum.value, '~g') : '10⁻' + ['⁰','¹','²','³','⁴','⁵','⁶','⁷','⁸','⁹'][-round(log(datum.value)/LN10)]","title":"s̃"}},
  "y":{"field":"c","type":"quantitative","scale":{"type":"log","domain":[6.2e-8,2.88e-4],"nice":false},"axis":{"values":[1e-7,5e-7,1e-6,5e-6,1e-5,5e-5,1e-4],"labelFontSize":10,"labelExpr":"round(datum.value/pow(10,floor(log(datum.value)/LN10+0.0001))) + '×10⁻' + ['⁰','¹','²','³','⁴','⁵','⁶','⁷','⁸','⁹'][-floor(log(datum.value)/LN10+0.0001)]","title":"c̃, ⟨c̃⟩","titlePadding":6}}},
 "layer":[
  {"data":{"name":"crv"},"transform":[{"filter":"datum.p==='d'"}],"mark":{"type":"line","color":"#3d59a7","strokeWidth":1.5,"interpolate":"monotone","clip":true}},
  {"data":{"name":"pts"},"transform":[{"filter":"datum.p==='d'"}],"mark":{"type":"circle","color":"#e0262b","size":14,"opacity":1,"clip":true}}]},
{"title":"(e)","width":210,"height":129,
 "encoding":{
  "x":{"field":"s","type":"quantitative","scale":{"type":"log","domain":[5.1e-8,0.32],"nice":false},"axis":{"values":[1e-7,1e-6,1e-5,1e-4,1e-3,1e-2,0.1],"labelExpr":"datum.value >= 0.0009 ? format(datum.value, '~g') : '10⁻' + ['⁰','¹','²','³','⁴','⁵','⁶','⁷','⁸','⁹'][-round(log(datum.value)/LN10)]","title":"s̃"}},
  "y":{"field":"c","type":"quantitative","scale":{"type":"log","domain":[1.86e-7,1.95e-4],"nice":false},"axis":{"values":[5e-7,1e-6,5e-6,1e-5,5e-5,1e-4],"labelFontSize":12,"labelExpr":"round(datum.value/pow(10,floor(log(datum.value)/LN10+0.0001))) + '×10⁻' + ['⁰','¹','²','³','⁴','⁵','⁶','⁷','⁸','⁹'][-floor(log(datum.value)/LN10+0.0001)]","title":"c̃, ⟨c̃⟩"}}},
 "layer":[
  {"data":{"name":"crv"},"transform":[{"filter":"datum.p==='e'"}],"mark":{"type":"line","color":"#3d59a7","strokeWidth":1.5,"interpolate":"monotone","clip":true}},
  {"data":{"name":"pts"},"transform":[{"filter":"datum.p==='e'"}],"mark":{"type":"circle","color":"#e0262b","size":14,"opacity":1,"clip":true}}]},
{"title":"(f)","width":210,"height":129,
 "encoding":{
  "x":{"field":"s","type":"quantitative","scale":{"type":"log","domain":[2.5e-7,0.31],"nice":false},"axis":{"values":[1e-6,1e-5,1e-4,1e-3,1e-2,0.1],"labelExpr":"datum.value >= 0.0009 ? format(datum.value, '~g') : '10⁻' + ['⁰','¹','²','³','⁴','⁵','⁶','⁷','⁸','⁹'][-round(log(datum.value)/LN10)]","title":"s̃"}},
  "y":{"field":"c","type":"quantitative","scale":{"type":"log","domain":[2.3e-7,2.0e-4],"nice":false},"axis":{"values":[5e-7,1e-6,5e-6,1e-5,5e-5,1e-4],"labelFontSize":12,"labelExpr":"round(datum.value/pow(10,floor(log(datum.value)/LN10+0.0001))) + '×10⁻' + ['⁰','¹','²','³','⁴','⁵','⁶','⁷','⁸','⁹'][-floor(log(datum.value)/LN10+0.0001)]","title":"c̃, ⟨c̃⟩"}}},
 "layer":[
  {"data":{"name":"crv"},"transform":[{"filter":"datum.p==='f'"}],"mark":{"type":"line","color":"#3d59a7","strokeWidth":1.5,"interpolate":"monotone","clip":true}},
  {"data":{"name":"pts"},"transform":[{"filter":"datum.p==='f'"}],"mark":{"type":"circle","color":"#e0262b","size":14,"opacity":1,"clip":true}}]}
]
}
